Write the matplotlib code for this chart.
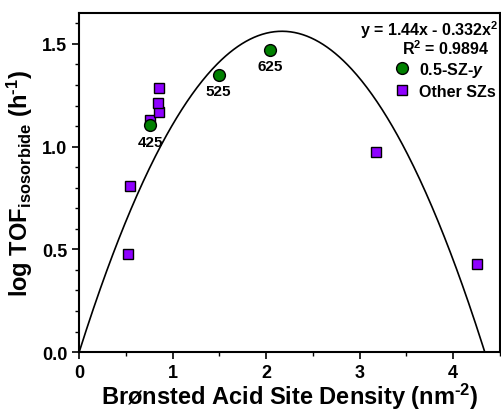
import numpy as np
import matplotlib
matplotlib.use("Agg")
import matplotlib.pyplot as plt
from matplotlib.ticker import MultipleLocator
from matplotlib.lines import Line2D

plt.rcParams['font.family'] = ['Liberation Sans', 'DejaVu Sans']
plt.rcParams['font.weight'] = 'bold'
plt.rcParams['mathtext.fontset'] = 'custom'
plt.rcParams['mathtext.rm'] = 'Liberation Sans:bold'
plt.rcParams['mathtext.bf'] = 'Liberation Sans:bold'
plt.rcParams['mathtext.it'] = 'Liberation Sans:bold:italic'

# 0.5-SZ-y series (calcination temperature labels)
sz_x = [0.76, 1.49, 2.04]
sz_y = [1.103, 1.350, 1.472]
sz_labels = ['425', '525', '625']

# other SZ catalysts
other_x = [0.76, 0.854, 0.84, 0.857, 0.545, 0.52, 3.17, 4.255]
other_y = [1.128, 1.171, 1.212, 1.285, 0.807, 0.48, 0.975, 0.43]

# quadratic fit y = a*x + b*x^2
fit_a = 1.44
fit_b = -0.332

fig = plt.figure(figsize=(5.01, 4.14), dpi=100)
ax = fig.add_axes([0.158, 0.147, 0.840, 0.819])

xs = np.linspace(0, -fit_a / fit_b, 400)
ax.plot(xs, fit_a * xs + fit_b * xs ** 2, color='black', linewidth=1.2, zorder=1)

ax.plot(other_x, other_y, linestyle='', marker='s', markersize=7, color='#8f00ff',
        markeredgecolor='black', markeredgewidth=1.0, zorder=3)
ax.plot(sz_x, sz_y, linestyle='', marker='o', markersize=8.5, color='#008000',
        markeredgecolor='black', markeredgewidth=1.0, zorder=4)

for x, y, lab in zip(sz_x, sz_y, sz_labels):
    ax.annotate(lab, (x, y), xytext=(0, -7), textcoords='offset points',
                ha='center', va='top', fontsize=11, fontweight='bold')

ax.set_xlim(0, 4.5)
ax.set_ylim(0, 1.65)
ax.xaxis.set_major_locator(MultipleLocator(1))
ax.xaxis.set_minor_locator(MultipleLocator(0.5))
ax.yaxis.set_major_locator(MultipleLocator(0.5))
ax.yaxis.set_minor_locator(MultipleLocator(0.1))
ax.tick_params(which='major', direction='out', length=5, width=1.2, labelsize=13)
ax.tick_params(which='minor', direction='out', length=3, width=1.0)
for s in ax.spines.values():
    s.set_linewidth(1.5)

ax.set_xlabel('Brønsted Acid Site Density (nm$^{\\text{-2}}$)', fontsize=17, fontweight='bold', labelpad=0)
ax.set_ylabel('log TOF$_{\\mathregular{isosorbide}}$ (h$^{\\text{-1}}$)', fontsize=17, fontweight='bold', labelpad=5)

ax.text(0.996, 0.985, 'y = 1.44x - 0.332x$^{2}$', transform=ax.transAxes,
        ha='right', va='top', fontsize=11.5, fontweight='bold')
ax.text(0.976, 0.925, 'R$^{2}$ = 0.9894', transform=ax.transAxes,
        ha='right', va='top', fontsize=11.5, fontweight='bold')

handles = [
    Line2D([], [], linestyle='', marker='o', markersize=8.5, color='#008000',
           markeredgecolor='black', markeredgewidth=1.0),
    Line2D([], [], linestyle='', marker='s', markersize=7, color='#8f00ff',
           markeredgecolor='black', markeredgewidth=1.0),
]
ax.legend(handles, ['0.5-SZ-$\\it{y}$', 'Other SZs'], loc='upper right',
          bbox_to_anchor=(1.017, 0.895), frameon=False, fontsize=11.5,
          handlelength=1.0, handletextpad=0.6, labelspacing=0.3, borderpad=0.2)

fig.savefig('out.png', dpi=100)
